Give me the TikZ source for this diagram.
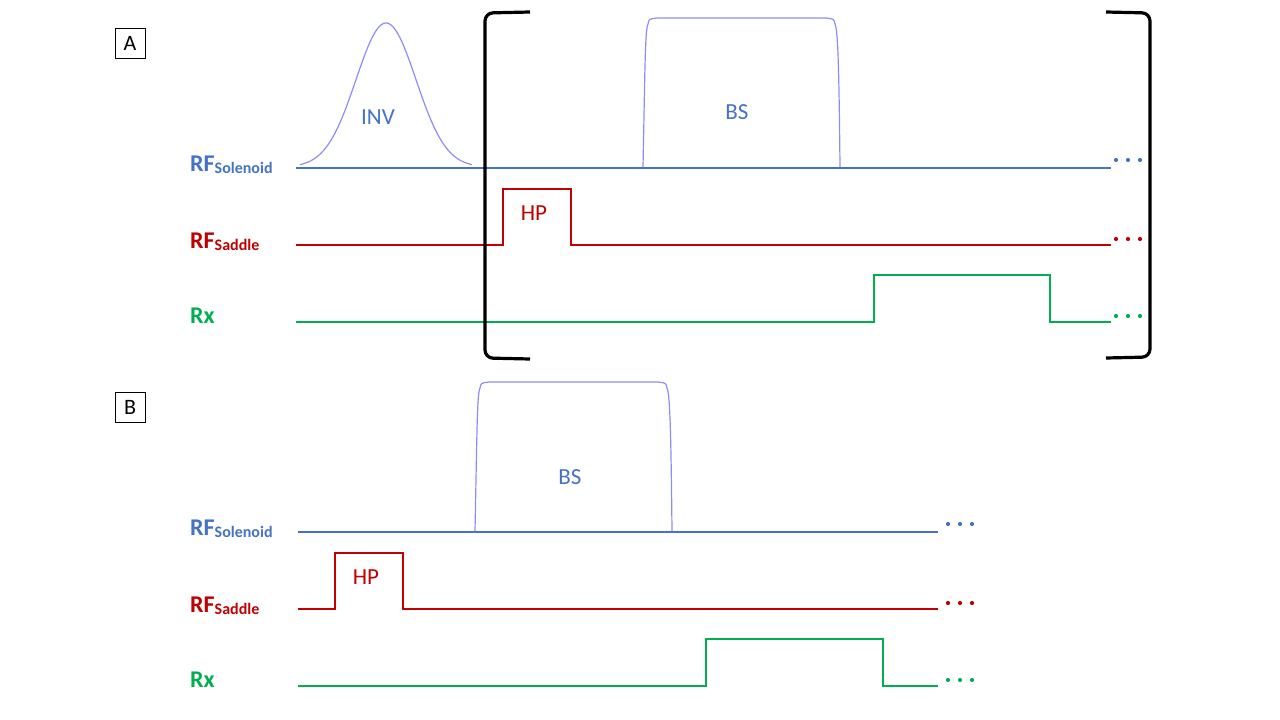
\documentclass[tikz,border=0pt]{standalone}
\usepackage{fontspec}
\setmainfont{Carlito}
\usepackage{tikz}
\usetikzlibrary{positioning}
\definecolor{solblue}{HTML}{4472C4}
\definecolor{sadred}{HTML}{C00000}
\definecolor{rxgreen}{HTML}{00B050}
\definecolor{pulseblue}{HTML}{8C8CFF}
\tikzset{
  panelbox/.style={draw=black,line width=1pt,minimum width=30pt,minimum height=30pt,inner sep=0pt,font=\fontsize{22}{22}\selectfont},
  chlabel/.style={anchor=base west,inner sep=0pt,font=\bfseries\fontsize{24}{24}\selectfont},
  pulsetext/.style={inner sep=0pt,font=\fontsize{23}{23}\selectfont},
  solline/.style={draw=solblue,line width=2pt},
  sadline/.style={draw=sadred,line width=2pt},
  rxline/.style={draw=rxgreen,line width=2pt},
  shaped/.style={draw=pulseblue,line width=1.2pt},
  brack/.style={draw=black,line width=3.2pt,rounded corners=8pt},
  dotsym/.style={circle,inner sep=0pt,minimum size=4.2pt}
}
\newcommand{\chsub}[1]{\raisebox{-0.25ex}{\fontsize{16}{16}\selectfont #1}}

\begin{document}
\begin{tikzpicture}[x=1pt,y=-1pt]
  \useasboundingbox (0,0) rectangle (1280,720);
  % panel A
  \node[panelbox] (panelA) at (130,43) {A};
  \node[chlabel,text=solblue] (solA) at (190,171) {RF\chsub{Solenoid}};
  \node[chlabel,text=sadred] (sadA) at (190,248) {RF\chsub{Saddle}};
  \node[chlabel,text=rxgreen] (rxA) at (190,323) {Rx};
  \coordinate (solA0) at (296,167.5);
  \coordinate (solA1) at (1111,167.5);
  \coordinate (sadA0) at (296,244.5);
  \coordinate (sadA1) at (1111,244.5);
  \coordinate (rxA0) at (296,321.5);
  \coordinate (rxA1) at (1111,321.5);
  % inversion and saturation pulses
  \draw[shaped] plot[domain=300:472,samples=90,smooth] (\x,{167-144*exp(-((\x-386)/30)^2/2)});
  \node[pulsetext,text=solblue] (invA) at (378,117) {INV};
  \draw[shaped] (643,167) .. controls (645,70) and (645,30) .. (648,24)
    .. controls (649,19) .. (657,18) -- (826,18) .. controls (834,19) .. (835,24)
    .. controls (838,30) and (839,70) .. (840,167);
  \node[pulsetext,text=solblue] (bsA) at (737,112) {BS};
  \draw[solline] (solA0) -- (solA1);
  \draw[sadline] (sadA0) -- (503,244.5) -- (503,189) -- (571,189) -- (571,244.5) -- (sadA1);
  \node[pulsetext,text=sadred] (hpA) at (534,213) {HP};
  \draw[rxline] (rxA0) -- (874,321.5) -- (874,274.5) -- (1050,274.5) -- (1050,321.5) -- (rxA1);
  \foreach \i in {1116,1128,1140} {
    \node[dotsym,fill=solblue] at (\i,160) {};
    \node[dotsym,fill=sadred] at (\i,239) {};
    \node[dotsym,fill=rxgreen] at (\i,316) {};
  }
  % loop brackets
  \draw[brack] (530,12) -- (485,13) -- (485,358) -- (530,359);
  \draw[brack] (1106,12) -- (1150,13) -- (1150,357) -- (1106,358);
  % panel B
  \node[panelbox] (panelB) at (130,407.5) {B};
  \node[chlabel,text=solblue] (solB) at (190,535) {RF\chsub{Solenoid}};
  \node[chlabel,text=sadred] (sadB) at (190,612) {RF\chsub{Saddle}};
  \node[chlabel,text=rxgreen] (rxB) at (190,687) {Rx};
  \coordinate (solB0) at (298,531.5);
  \coordinate (solB1) at (938,531.5);
  \coordinate (sadB0) at (298,608.5);
  \coordinate (sadB1) at (938,608.5);
  \coordinate (rxB0) at (298,685.5);
  \coordinate (rxB1) at (938,685.5);
  \draw[shaped] (475,531) .. controls (477,434) and (477,394) .. (480,388)
    .. controls (481,383) .. (489,382) -- (658,382) .. controls (666,383) .. (667,388)
    .. controls (670,394) and (671,434) .. (672,531);
  \node[pulsetext,text=solblue] (bsB) at (570,477) {BS};
  \draw[solline] (solB0) -- (solB1);
  \draw[sadline] (sadB0) -- (335,608.5) -- (335,553) -- (403,553) -- (403,608.5) -- (sadB1);
  \node[pulsetext,text=sadred] (hpB) at (366,577) {HP};
  \draw[rxline] (rxB0) -- (706,685.5) -- (706,638.5) -- (883,638.5) -- (883,685.5) -- (rxB1);
  \foreach \i in {948,960,972} {
    \node[dotsym,fill=solblue] at (\i,524) {};
    \node[dotsym,fill=sadred] at (\i,603) {};
    \node[dotsym,fill=rxgreen] at (\i,680) {};
  }
\end{tikzpicture}
\end{document}
